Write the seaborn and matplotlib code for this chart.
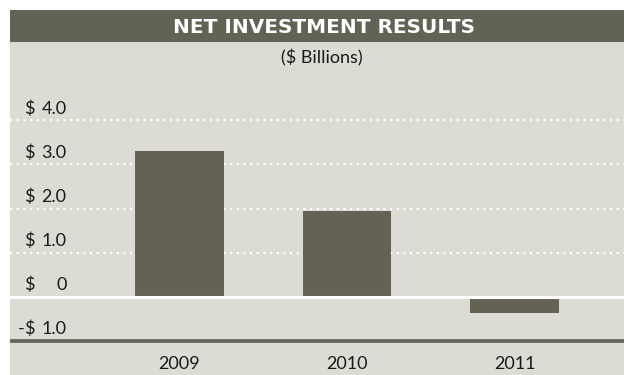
import matplotlib
matplotlib.use("Agg")
import matplotlib.pyplot as plt
from matplotlib.patches import Rectangle
import seaborn as sns
import pandas as pd

# Net investment results, $ billions
years = ["2009", "2010", "2011"]
results = [3.3, 1.95, -0.37]
y_ticks = [4.0, 3.0, 2.0, 1.0, 0.0, -1.0]

title = "NET INVESTMENT RESULTS"
subtitle = "($ Billions)"

PANEL = "#DCDBD4"
DARK = "#636355"
BAR = "#636254"
TEXT = "#1a1a1a"

sns.set_theme(style="white")
plt.rcParams["font.family"] = ["Lato", "DejaVu Sans"]

W, H = 624, 375
fig = plt.figure(figsize=(W / 100, H / 100), dpi=100, facecolor="white")

def px(x0, y0, w, h):
    # pixel box (top-left origin) -> figure fraction
    return (x0 / W, 1 - (y0 + h) / H, w / W, h / H)

# background panel and title band
x0, y0, w0, h0 = px(10, 10, W - 10, H - 10)
fig.patches.append(Rectangle((x0, y0), w0, h0, transform=fig.transFigure,
                             facecolor=PANEL, edgecolor="none", zorder=-2))
bx, by, bw, bh = px(10, 10, W - 10, 32)
fig.patches.append(Rectangle((bx, by), bw, bh, transform=fig.transFigure,
                             facecolor=DARK, edgecolor="none", zorder=-1))
fig.text(324 / W, 1 - 27.5 / H, title, color="white", fontsize=14.4,
         fontweight="bold", family="DejaVu Sans", ha="center", va="center")
fig.text(322 / W, 1 - 57.5 / H, subtitle, color=TEXT, fontsize=13,
         ha="center", va="center")

# plotting area: y=-1 sits at pixel row 340.5, 44 px per unit
unit = 44.0
ax_top, ax_bot = 70, 346
zero_row = 296.5
ax = fig.add_axes(px(10, ax_top, W - 10, ax_bot - ax_top))
ax.set_facecolor("none")
ax.set_zorder(1)

df = pd.DataFrame({"year": years, "value": results})
sns.barplot(data=df, x="year", y="value", color=BAR, saturation=1, width=0.53,
            ax=ax, zorder=3, edgecolor="none")

ax.set_ylim(-(ax_bot - zero_row) / unit, (zero_row - ax_top) / unit)
# bar centres at 179.5, 347, 514.5 px
spacing = 167.5
ax.set_xlim((10 - 179.5) / spacing, (W - 179.5) / spacing)

for v in y_ticks:
    if v > 0:
        ax.axhline(v, color="white", linestyle=(0, (1, 2)), linewidth=1.6, zorder=1)
ax.axhline(0, color="white", linewidth=2.2, zorder=4)
ax.axhline(-1.0, color="#67665a", linewidth=2.7, zorder=4)

# y labels drawn inside the plot, just above each line
trans = ax.get_yaxis_transform()
x_dollar = (24 - 10) / (W - 10)
x_num = (66.5 - 10) / (W - 10)
for v in y_ticks:
    num = "0" if v == 0 else f"{abs(v):.1f}"
    yy = v + 3.5 / unit
    ax.text(x_dollar, yy, "$", transform=trans, ha="left", va="bottom",
            fontsize=13, color=TEXT)
    ax.text(x_num, yy, num, transform=trans, ha="right", va="bottom",
            fontsize=13, color=TEXT)
    if v < 0:
        ax.text(x_dollar + 0.001, yy, "-", transform=trans, ha="right", va="bottom",
                fontsize=13, color=TEXT)

ax.set_yticks([])
ax.set_xlabel("")
ax.set_ylabel("")
ax.tick_params(axis="x", length=0, pad=7, labelsize=13, labelcolor=TEXT)
for s in ax.spines.values():
    s.set_visible(False)

fig.savefig("out.png", dpi=100, facecolor="white")
